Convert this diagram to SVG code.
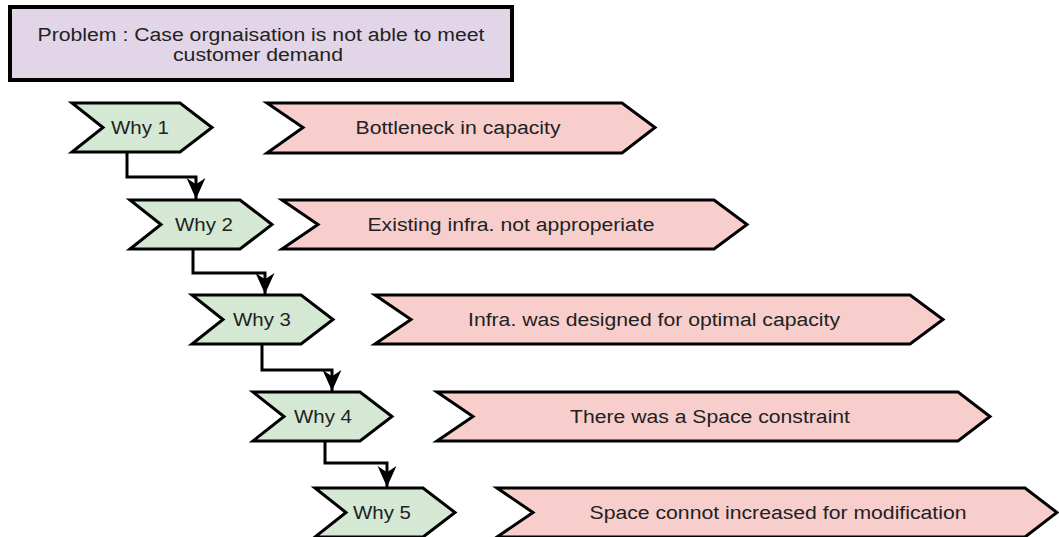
<svg xmlns="http://www.w3.org/2000/svg" width="1059" height="537" viewBox="0 0 1059 537">
  <style>
    .lbl { font-family: "Liberation Sans", Arial, sans-serif; font-size: 18px; fill: #222; text-anchor: middle; dominant-baseline: central; }
    .why { fill: #d5e8d4; stroke: #000; stroke-width: 3; stroke-linejoin: miter; }
    .ans { fill: #f8cecc; stroke: #000; stroke-width: 3; stroke-linejoin: miter; }
    .prob { fill: #e1d5e7; stroke: #000; stroke-width: 4; }
    .link { fill: none; stroke: #000; stroke-width: 3; }
  </style>
  <defs>
    <marker id="arrow" viewBox="0 0 10 10" refX="10" refY="5" markerWidth="7" markerHeight="7" markerUnits="strokeWidth" orient="auto">
      <path d="M0,0.5 L10,5 L0,9.5 L3,5 Z" fill="#000"/>
    </marker>
  </defs>

  <rect width="1059" height="537" fill="#fff"/>

  <!-- problem statement -->
  <g id="problem">
    <rect class="prob" x="10" y="7" width="502" height="73"/>
    <text class="lbl" x="261" y="35" textLength="447" lengthAdjust="spacingAndGlyphs">Problem : Case orgnaisation is not able to meet</text>
    <text class="lbl" x="258" y="55" textLength="170" lengthAdjust="spacingAndGlyphs">customer demand</text>
  </g>

  <!-- elbow links from one "why" to the next -->
  <g id="connectors">
    <path class="link" d="M127,152 V177 H196 V199" marker-end="url(#arrow)"/>
    <path class="link" d="M193,249 V273 H265 V294" marker-end="url(#arrow)"/>
    <path class="link" d="M262,344 V370 H332 V391" marker-end="url(#arrow)"/>
    <path class="link" d="M325,441 V463 H387 V487" marker-end="url(#arrow)"/>
  </g>

  <!-- why chevrons -->
  <g id="why1">
    <polygon class="why" points="72,103 180,103 212,127.5 180,152 72,152 103,127.5"/>
    <text class="lbl" x="140" y="128" textLength="58" lengthAdjust="spacingAndGlyphs">Why 1</text>
  </g>
  <g id="why2">
    <polygon class="why" points="130,200 240,200 272,224.5 240,249 130,249 161,224.5"/>
    <text class="lbl" x="204" y="225" textLength="58" lengthAdjust="spacingAndGlyphs">Why 2</text>
  </g>
  <g id="why3">
    <polygon class="why" points="192,295 301,295 333,319.5 301,344 192,344 223,319.5"/>
    <text class="lbl" x="262" y="320" textLength="58" lengthAdjust="spacingAndGlyphs">Why 3</text>
  </g>
  <g id="why4">
    <polygon class="why" points="253,392 360,392 392,416.5 360,441 253,441 284,416.5"/>
    <text class="lbl" x="323" y="417" textLength="58" lengthAdjust="spacingAndGlyphs">Why 4</text>
  </g>
  <g id="why5">
    <polygon class="why" points="315,488 423,488 455,512.5 423,537 315,537 346,512.5"/>
    <text class="lbl" x="382" y="513" textLength="58" lengthAdjust="spacingAndGlyphs">Why 5</text>
  </g>

  <!-- answer banners -->
  <g id="answer1">
    <polygon class="ans" points="267,103 622,103 655,127.5 622,153 267,153 303,127.5"/>
    <text class="lbl" x="458" y="128" textLength="205" lengthAdjust="spacingAndGlyphs">Bottleneck in capacity</text>
  </g>
  <g id="answer2">
    <polygon class="ans" points="282,200 714,200 747,224.5 714,249 282,249 318,224.5"/>
    <text class="lbl" x="511" y="225" textLength="287" lengthAdjust="spacingAndGlyphs">Existing infra. not approperiate</text>
  </g>
  <g id="answer3">
    <polygon class="ans" points="375,295 910,295 943,319.5 910,344 375,344 411,319.5"/>
    <text class="lbl" x="654" y="320" textLength="372" lengthAdjust="spacingAndGlyphs">Infra. was designed for optimal capacity</text>
  </g>
  <g id="answer4">
    <polygon class="ans" points="437,392 958,392 990,416.5 958,441 437,441 473,416.5"/>
    <text class="lbl" x="710" y="417" textLength="280" lengthAdjust="spacingAndGlyphs">There was a Space constraint</text>
  </g>
  <g id="answer5">
    <polygon class="ans" points="497,488 1025,488 1057,512.5 1025,537 497,537 533,512.5"/>
    <text class="lbl" x="778" y="513" textLength="377" lengthAdjust="spacingAndGlyphs">Space connot increased for modification</text>
  </g>
</svg>
